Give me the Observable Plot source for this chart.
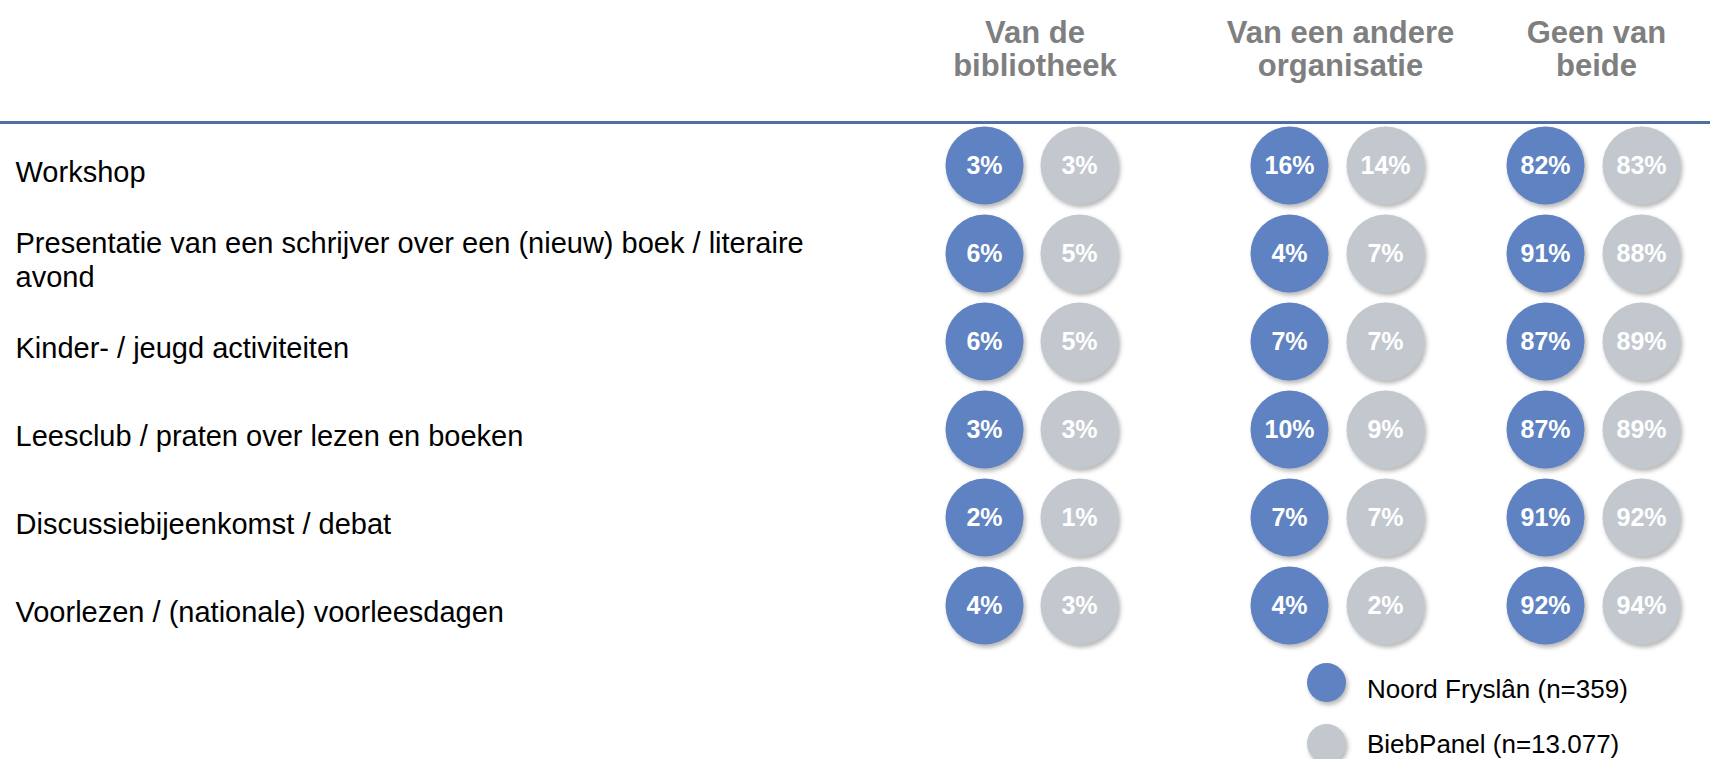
<!DOCTYPE html>
<html>
<head>
<meta charset="utf-8">
<script src="https://cdn.jsdelivr.net/npm/d3@7"></script>
<script src="https://cdn.jsdelivr.net/npm/@observablehq/plot@0.6"></script>
<style>
  html, body { margin: 0; padding: 0; background: #fff; overflow: hidden; }
  body { font-family: "Liberation Sans", Arial, sans-serif; width: 1710px; height: 759px; }
  #chart svg { display: block; }
  #chart g[aria-label="dot"] circle { filter: drop-shadow(2px 3px 2px rgba(0,0,0,0.28)); }
  #legend { margin-left: 1307px; }
  .item { display: flex; align-items: center; height: 61px; }
  .sw { width: 39px; height: 39px; border-radius: 50%; filter: drop-shadow(2px 3px 2px rgba(0,0,0,0.28)); flex: none; }
  .lbl { margin-left: 21px; font-size: 26px; color: #000; position: relative; white-space: nowrap; }
</style>
</head>
<body>
<div id="chart"></div>
<div id="legend"></div>
<script>
const categories = [
  "Workshop",
  "Presentatie van een schrijver over een (nieuw) boek / literaire avond",
  "Kinder- / jeugd activiteiten",
  "Leesclub / praten over lezen en boeken",
  "Discussiebijeenkomst / debat",
  "Voorlezen / (nationale) voorleesdagen"
];
const groups = ["Van de\nbibliotheek", "Van een andere\norganisatie", "Geen van\nbeide"];
const series = ["Noord Fryslân (n=359)", "BiebPanel (n=13.077)"];
const colors = ["#5f83c2", "#c2c8ce"];

// values[group][series][category] in %
const bibliotheekNoord = [3, 6, 6, 3, 2, 4];
const bibliotheekPanel = [3, 5, 5, 3, 1, 3];
const andereNoord = [16, 4, 7, 10, 7, 4];
const anderePanel = [14, 7, 7, 9, 7, 2];
const geenNoord = [82, 91, 87, 87, 91, 92];
const geenPanel = [83, 88, 89, 89, 92, 94];

const values = [
  [bibliotheekNoord, bibliotheekPanel],
  [andereNoord, anderePanel],
  [geenNoord, geenPanel]
];

const rows = [];
groups.forEach((g, gi) => series.forEach((s, si) => categories.forEach((c, ci) => {
  rows.push({group: g, series: s, category: c, col: gi * 2 + si, value: values[gi][si][ci]});
})));
const headers = groups.map((g, gi) => ({group: g, col: gi * 2 + 0.5}));

const chart = Plot.plot({
  width: 1710,
  height: 652,
  marginTop: 165,
  marginBottom: 47,
  marginLeft: 0,
  marginRight: 0,
  style: {fontFamily: "'Liberation Sans', Arial, sans-serif", background: "#fff"},
  x: {type: "linear", domain: [0, 1, 2, 3, 4, 5], range: [984, 1079, 1289, 1385, 1545, 1641], axis: null},
  y: {type: "point", domain: categories, padding: 0, axis: null},
  color: {domain: series, range: colors},
  marks: [
    Plot.ruleY([categories[0]], {dy: -43, stroke: "#4f6fa0", strokeWidth: 3}),
    Plot.text(headers, {
      x: "col", text: "group", frameAnchor: "top", lineAnchor: "top", dy: -146, dx: 3,
      fill: "#7f7f7f", fontWeight: "bold", fontSize: 31, lineHeight: 1.065, textAnchor: "middle"
    }),
    Plot.text(categories, {
      y: d => d, text: d => d, frameAnchor: "left", textAnchor: "start", dx: 15, dy: 6,
      fontSize: 29, lineWidth: 31, lineHeight: 1.17, fill: "#000"
    }),
    Plot.dot(rows, {x: "col", y: "category", r: 39, fill: "series", stroke: null}),
    Plot.text(rows, {
      x: "col", y: "category", text: d => d.value + "%", fill: "#fff",
      fontWeight: "bold", fontSize: 25, textAnchor: "middle"
    })
  ]
});
document.getElementById("chart").appendChild(chart);

const legend = document.getElementById("legend");
const labelShift = [7, 1];
series.forEach((s, i) => {
  const item = document.createElement("div");
  item.className = "item";
  const sw = document.createElement("span");
  sw.className = "sw";
  sw.style.background = colors[i];
  const lbl = document.createElement("span");
  lbl.className = "lbl";
  lbl.style.top = labelShift[i] + "px";
  lbl.textContent = s;
  item.appendChild(sw);
  item.appendChild(lbl);
  legend.appendChild(item);
});
</script>
</body>
</html>
